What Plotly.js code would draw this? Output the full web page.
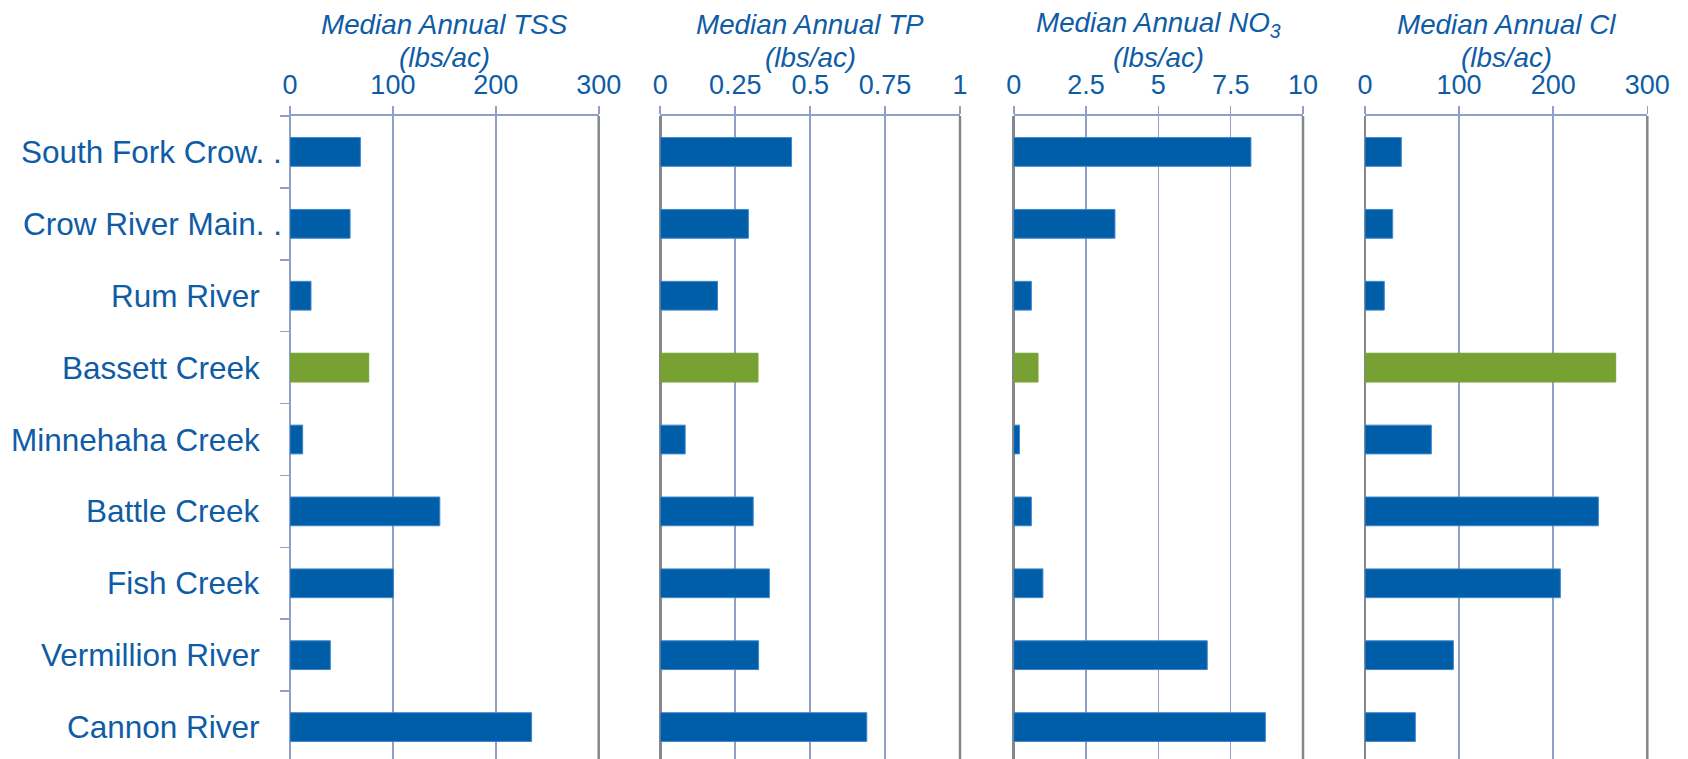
<!DOCTYPE html>
<html>
<head>
<meta charset="utf-8">
<script src="https://cdn.plot.ly/plotly-3.0.1.min.js"></script>
<style>
  html, body { margin: 0; padding: 0; background: #ffffff; }
  #chart { width: 1688px; height: 759px; }
</style>
</head>
<body>
<div id="chart"></div>
<script>
// Monitored streams, top to bottom (long names are shown cut short)
const sites = [
  "South Fork Crow. .",
  "Crow River Main. .",
  "Rum River",
  "Bassett Creek",
  "Minnehaha Creek",
  "Battle Creek",
  "Fish Creek",
  "Vermillion River",
  "Cannon River"
];
const highlightSite = "Bassett Creek";

// Median annual loads (lbs/ac)
const tssValues = [68.4, 58.4, 20.4, 76.5, 12.3, 145.6, 100.5, 39.2, 234.8];
const tpValues  = [0.438, 0.294, 0.191, 0.326, 0.083, 0.310, 0.364, 0.328, 0.689];
const no3Values = [8.2, 3.5, 0.61, 0.84, 0.2, 0.61, 1.01, 6.69, 8.7];
const clValues  = [38.6, 29.4, 20.5, 266.4, 70.5, 248, 207.6, 93.9, 53.5];

// Panel headings
const titleLine1 = ["Median Annual TSS", "Median Annual TP", "Median Annual NO<sub>3</sub>", "Median Annual Cl"];
const titleLine2 = ["(lbs/ac)", "(lbs/ac)", "(lbs/ac)", "(lbs/ac)"];

// Axis extents and tick spacing
const axisMax = [300, 1, 10, 300];
const axisStep = [100, 0.25, 2.5, 100];

// ---- styling ----
const W = 1688, H = 759, TOP = 116;
const FONT = "Liberation Sans, Arial, sans-serif";
const TEXT = "#0f5ca6";
const BLUE = "#005ea9";
const GREEN = "#77a132";
const GRID = "#8f9fca";
const DARK = "#85878c";
const CUT_MARK = ". .";

const panelPx = [[290, 598.7], [660.3, 960], [1013.7, 1303], [1365, 1647.3]];
const domains = panelPx.map(p => [p[0] / W, p[1] / W]);
const seriesList = [tssValues, tpValues, no3Values, clValues];
const barColors = sites.map(s => s === highlightSite ? GREEN : BLUE);
const barLines = sites.map(s => s === highlightSite ? GREEN : "#3f86cc");

const traces = seriesList.map((vals, i) => ({
  type: "bar",
  orientation: "h",
  y: sites,
  x: vals,
  xaxis: i === 0 ? "x" : "x" + (i + 1),
  yaxis: "y",
  marker: { color: barColors, line: { color: barLines, width: 1 } },
  hoverinfo: "skip",
  showlegend: false
}));

const layout = {
  width: W,
  height: H,
  margin: { l: 0, r: 0, t: TOP, b: 0, pad: 0 },
  paper_bgcolor: "#ffffff",
  plot_bgcolor: "#ffffff",
  bargap: 0.6,
  font: { family: FONT, color: TEXT },
  showlegend: false,
  yaxis: {
    type: "category",
    categoryorder: "array",
    categoryarray: sites,
    range: [8.444, -0.5],
    domain: [0, 1],
    anchor: "x",
    showgrid: false,
    zeroline: false,
    showline: true,
    linecolor: GRID,
    linewidth: 1.5,
    ticks: "outside",
    tickson: "boundaries",
    ticklen: 9,
    tickwidth: 1.5,
    tickcolor: GRID,
    showticklabels: false,
    fixedrange: true
  },
  shapes: [],
  annotations: []
};

// category names at the left of the first panel; shortened names spill
// to the right over the tick marks
sites.forEach(name => {
  const cut = name.endsWith(CUT_MARK);
  layout.annotations.push({
    xref: "paper", yref: "y",
    x: (cut ? 284 : 262) / W, y: name,
    xanchor: "right", yanchor: "middle",
    text: name,
    showarrow: false,
    font: { family: FONT, size: 31.5, color: TEXT }
  });
});

for (let i = 0; i < 4; i++) {
  const key = i === 0 ? "xaxis" : "xaxis" + (i + 1);
  layout[key] = {
    domain: domains[i],
    anchor: "y",
    side: "top",
    range: [0, axisMax[i]],
    dtick: axisStep[i],
    tick0: 0,
    showgrid: true,
    gridcolor: GRID,
    gridwidth: 1.6,
    zeroline: true,
    zerolinecolor: i === 0 ? GRID : DARK,
    zerolinewidth: i === 0 ? 1.6 : 2.5,
    showline: true,
    linecolor: GRID,
    linewidth: 2.2,
    ticks: "outside",
    ticklen: 8,
    tickwidth: 1.6,
    tickcolor: GRID,
    ticklabelstandoff: 1,
    tickfont: { family: FONT, size: 27, color: TEXT },
    fixedrange: true
  };

  // dark right-hand frame of each panel
  const ref = i === 0 ? "x" : "x" + (i + 1);
  layout.shapes.push({
    type: "line",
    xref: ref + " domain", x0: 1, x1: 1,
    yref: "paper", y0: 0, y1: 1,
    line: { color: DARK, width: 2.5 },
    layer: "above"
  });

  // two-line heading centred over the panel
  const cx = (domains[i][0] + domains[i][1]) / 2;
  const ph = H - TOP;
  layout.annotations.push({
    xref: "paper", yref: "paper",
    x: cx, y: 1 + (TOP - 25) / ph,
    xanchor: "center", yanchor: "middle",
    text: "<i>" + titleLine1[i] + "</i>",
    showarrow: false,
    font: { family: FONT, size: 27.8, color: TEXT }
  });
  layout.annotations.push({
    xref: "paper", yref: "paper",
    x: cx, y: 1 + (TOP - 57) / ph,
    xanchor: "center", yanchor: "middle",
    text: "<i>" + titleLine2[i] + "</i>",
    showarrow: false,
    font: { family: FONT, size: 27.8, color: TEXT }
  });
}

Plotly.newPlot("chart", traces, layout, { staticPlot: true, displayModeBar: false });
</script>
</body>
</html>
